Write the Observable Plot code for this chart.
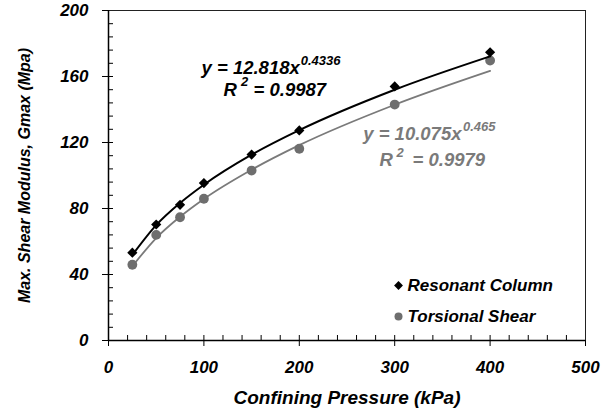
<!DOCTYPE html>
<html><head><meta charset="utf-8">
<script src="https://cdn.jsdelivr.net/npm/d3@7"></script>
<script src="https://cdn.jsdelivr.net/npm/@observablehq/plot@0.6"></script>
<style>body{margin:0;background:#fff}</style>
</head><body><div id="chart"></div>
<script>
const pressure = [25, 50, 75, 100, 150, 200, 300, 400];
const resonantColumn = [53.2, 70.3, 82.2, 95.4, 112.7, 127.3, 154.0, 174.7];
const torsionalShear = [45.9, 64.0, 74.7, 85.9, 103.0, 116.2, 143.0, 169.7];
const resonantFit = [51.8, 69.9, 83.3, 94.4, 112.6, 127.5, 152.0, 172.2];
const torsionalFit = [45.0, 62.1, 75.0, 85.8, 103.5, 118.4, 142.9, 163.4];
const seriesNames = ["Resonant Column", "Torsional Shear"];
const xTicks = [0, 100, 200, 300, 400, 500];
const yTicks = [0, 40, 80, 120, 160, 200];
const xMinorTicks = [20,40,60,80,100,120,140,160,180,200,220,240,260,280,300,320,340,360,380,400,420,440,460,480];
const yMinorTicks = [8,16,24,32,40,48,56,64,72,80,88,96,104,112,120,128,136,144,152,160,168,176,184,192];
const xTitle = "Confining Pressure (kPa)";
const yTitle = "Max. Shear Modulus, Gmax (Mpa)";

const rc = pressure.map((p, i) => ({p, g: resonantColumn[i], f: resonantFit[i]}));
const ts = pressure.map((p, i) => ({p, g: torsionalShear[i], f: torsionalFit[i]}));

const black = "#000";
const grey = "#7a7a7a";
const greyDot = "#6e6e6e";

const eqText = [
  {x: 97.5, y: 164.9, t: "y = 12.818x", s: 18.5, c: black},
  {x: 201.5, y: 169.3, t: "0.4336", s: 13, c: black},
  {x: 120.5, y: 151.8, t: "R", s: 18.5, c: black},
  {x: 139.0, y: 156.9, t: "2", s: 13, c: black},
  {x: 152.0, y: 151.8, t: "= 0.9987", s: 18.5, c: black},
  {x: 267.0, y: 125.4, t: "y = 10.075x", s: 18.5, c: grey},
  {x: 371.5, y: 129.8, t: "0.465", s: 13, c: grey},
  {x: 284.1, y: 109.5, t: "R", s: 18.5, c: grey},
  {x: 302.0, y: 114.0, t: "2", s: 13, c: grey},
  {x: 318.7, y: 109.5, t: "= 0.9979", s: 18.5, c: grey}
];
const legend = [
  {x: 304, y: 33.3, name: seriesNames[0], sym: "diamond2", c: black},
  {x: 304, y: 14.5, name: seriesNames[1], sym: "circle", c: greyDot}
];

const chart = Plot.plot({
  width: 613, height: 410,
  marginLeft: 108, marginRight: 28, marginTop: 10, marginBottom: 70,
  x: {domain: [0, 500]},
  y: {domain: [0, 200]},
  style: {fontFamily: "'Liberation Sans', Arial, sans-serif", fontSize: "17px", fontWeight: "bold", fontStyle: "italic", background: "#fff", overflow: "visible"},
  marks: [
    Plot.frame({stroke: "#222", strokeWidth: 1}),
    Plot.ruleX([0], {stroke: black, strokeWidth: 1.5}),
    Plot.ruleY([0], {stroke: black, strokeWidth: 1.5}),
    Plot.tickY(yMinorTicks, {y: d => d, insetRight: 472, stroke: black}),
    Plot.tickX(xMinorTicks, {x: d => d, insetTop: 325, stroke: black}),
    Plot.axisY(yTicks, {tickSize: 6, tickPadding: 14, label: null, tickFormat: d => d, fontSize: 17}),
    Plot.axisX(xTicks, {tickSize: 6, tickPadding: 14, label: null, tickFormat: d => d, fontSize: 17}),
    Plot.text([xTitle], {frameAnchor: "bottom", lineAnchor: "middle", dy: 57, fontSize: 19}),
    Plot.text([yTitle], {frameAnchor: "left", textAnchor: "middle", lineAnchor: "middle", dx: -84, rotate: -90, fontSize: 16}),
    Plot.line(ts, {x: "p", y: "f", stroke: grey, strokeWidth: 1.8, curve: "monotone-x"}),
    Plot.dot(ts, {x: "p", y: "g", r: 4.9, fill: greyDot, stroke: "none"}),
    Plot.line(rc, {x: "p", y: "f", stroke: black, strokeWidth: 2, curve: "monotone-x"}),
    Plot.dot(rc, {x: "p", y: "g", r: 4.6, symbol: "diamond2", fill: black, stroke: "none"}),
    Plot.text(eqText, {x: "x", y: "y", text: "t", fontSize: d => d.s, fill: "c", textAnchor: "start"}),
    Plot.dot(legend, {x: "x", y: "y", symbol: "sym", fill: "c", r: 4, stroke: "none"}),
    Plot.text(legend, {x: "x", y: "y", text: "name", dx: 9, textAnchor: "start", fontSize: 17, fill: black})
  ]
});
document.getElementById("chart").appendChild(chart);
</script>
</body></html>
